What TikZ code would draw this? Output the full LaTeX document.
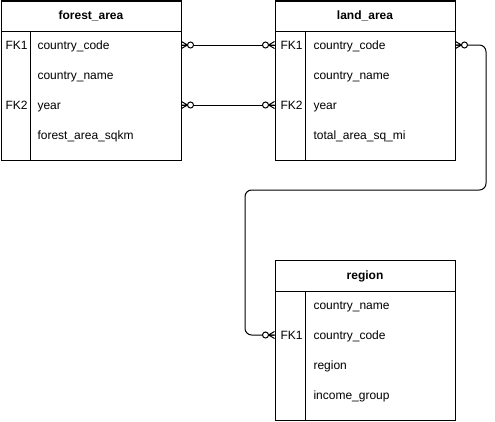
\documentclass[tikz,border=0pt]{standalone}
\usepackage{fontspec}
\setmainfont{Liberation Sans}

\tikzset{every picture/.style={line width=0.75pt}}
\tikzset{
	entity/.style={draw, minimum width=135pt, minimum height=119.25pt, inner sep=0pt},
	tabletitle/.style={font=\fontsize{9}{11}\selectfont\bfseries},
	field/.style={anchor=west, inner sep=0pt, text height=1.5ex, text depth=.25ex, font=\fontsize{9}{11}\selectfont},
	crowfoot/.pic={
		\draw (0,-3.5) -- (6,0) -- (0,3.5) (0,0) -- (6,0);
		\draw [fill=white] (9,0) circle (3);
	}}

\begin{document}
\begin{tikzpicture}[x=0.75pt,y=0.75pt,yscale=-1,xscale=1]
	\useasboundingbox (0,0) rectangle (495,421);

	%Shape: Table forest_area
	\node (forest) [entity] at (91,80.5) {};
	\draw (1,31) -- (181,31) (30,31) -- (30,160);
	%Shape: Table land_area
	\node (land) [entity] at (365,80.5) {};
	\draw (275,31) -- (455,31) (305,31) -- (305,160);
	%Shape: Table region
	\node (region) [entity, minimum height=120pt] at (365,340) {};
	\draw (275,291) -- (455,291) (305,291) -- (305,420);

	% Text Node
	\draw (91,16) node (forest-title) [tabletitle] {forest\_area};
	\draw (5,45) node (forest-fk1) [field] {FK1};
	\draw (37,45) node (forest-code) [field] {country\_code};
	\draw (37,75) node (forest-name) [field] {country\_name};
	\draw (5,105) node (forest-fk2) [field] {FK2};
	\draw (37,105) node (forest-year) [field] {year};
	\draw (37,135) node (forest-sqkm) [field] {forest\_area\_sqkm};
	% Text Node
	\draw (365,16) node (land-title) [tabletitle] {land\_area};
	\draw (280,45) node (land-fk1) [field] {FK1};
	\draw (313,45) node (land-code) [field] {country\_code};
	\draw (313,75) node (land-name) [field] {country\_name};
	\draw (280,105) node (land-fk2) [field] {FK2};
	\draw (313,105) node (land-year) [field] {year};
	\draw (313,135) node (land-sqmi) [field] {total\_area\_sq\_mi};
	% Text Node
	\draw (365,276) node (region-title) [tabletitle] {region};
	\draw (313,305) node (region-name) [field] {country\_name};
	\draw (280,335) node (region-fk1) [field] {FK1};
	\draw (313,335) node (region-code) [field] {country\_code};
	\draw (313,365) node (region-region) [field] {region};
	\draw (313,395) node (region-income) [field] {income\_group};

	%Connectors
	\draw (forest.east |- forest-code) -- (land.west |- land-code);
	\draw (forest.east |- forest-year) -- (land.west |- land-year);
	\draw [rounded corners=5pt] (land.east |- land-code) -| (486,190) -| (245,335) -- (region.west |- region-code);

	%Crow's feet (zero or many)
	\pic at (forest.east |- forest-code) {crowfoot};
	\pic at (forest.east |- forest-year) {crowfoot};
	\pic [rotate=180] at (land.west |- land-code) {crowfoot};
	\pic [rotate=180] at (land.west |- land-year) {crowfoot};
	\pic at (land.east |- land-code) {crowfoot};
	\pic [rotate=180] at (region.west |- region-code) {crowfoot};

\end{tikzpicture}
\end{document}
